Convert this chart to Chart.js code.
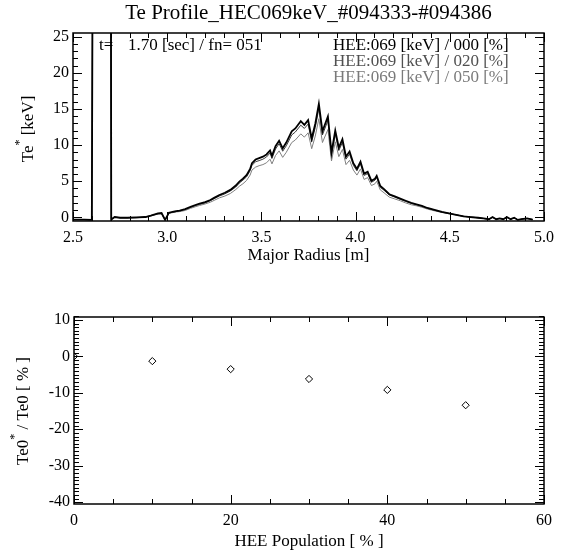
<!DOCTYPE html>
<html><head><meta charset="utf-8">
<script src="https://cdn.jsdelivr.net/npm/chart.js@4"></script>
<style>
html,body{margin:0;padding:0;background:#fff;}
#wrap{position:relative;width:563px;height:554px;background:#fff;}
#c1{position:absolute;left:0;top:0;}
#c2{position:absolute;left:0;top:280px;}
</style></head><body>
<div id="wrap"><canvas id="c1" width="563" height="280"></canvas><canvas id="c2" width="563" height="274"></canvas></div>
<script>
// ---------- data (top panel) ----------
const radius = [2.500,2.530,2.560,2.600,2.607,2.700,2.703,2.721,2.750,2.788,2.836,2.884,2.913,2.951,2.970,2.989,3.009,3.028,3.047,3.066,3.095,3.124,3.153,3.172,3.201,3.229,3.249,3.277,3.306,3.335,3.364,3.383,3.402,3.421,3.440,3.450,3.469,3.488,3.508,3.527,3.546,3.556,3.575,3.594,3.613,3.632,3.661,3.680,3.709,3.728,3.748,3.767,3.786,3.805,3.824,3.853,3.872,3.892,3.911,3.930,3.949,3.968,3.988,4.007,4.026,4.045,4.064,4.084,4.103,4.112,4.131,4.151,4.179,4.208,4.237,4.266,4.295,4.323,4.352,4.381,4.419,4.458,4.496,4.534,4.573,4.611,4.650,4.679,4.708,4.727,4.746,4.765,4.784,4.803,4.823,4.842,4.861,4.880,4.910,4.940];
const te000 = [-0.3,-0.3,-0.3,-0.35,60,60,-0.3,0.05,-0.05,-0.05,0.0,0.05,0.25,0.55,0.6,-0.35,0.65,0.75,0.85,0.95,1.15,1.45,1.75,1.9,2.1,2.4,2.7,3.1,3.4,3.8,4.4,4.95,5.35,5.85,6.7,7.5,8.0,8.2,8.4,8.7,9.25,8.5,9.85,10.6,9.55,10.35,11.9,12.3,13.3,12.8,13.45,10.9,12.95,15.7,11.9,13.95,8.95,12.0,9.65,10.8,8.4,9.1,7.5,6.7,7.7,6.05,6.3,5.05,5.35,5.75,4.35,3.9,3.2,2.9,2.6,2.3,2.0,1.8,1.6,1.3,1.05,0.75,0.55,0.35,0.15,0.05,-0.05,-0.15,-0.25,0.05,-0.25,-0.15,-0.25,0.05,-0.25,-0.05,-0.35,-0.25,-0.15,-0.3];
const te020 = [-0.3,-0.3,-0.3,-0.35,60,60,-0.3,0.05,-0.05,-0.05,-0.05,0.05,0.25,0.5,0.55,-0.35,0.6,0.7,0.8,0.9,1.1,1.4,1.65,1.8,2.0,2.3,2.6,2.95,3.25,3.65,4.2,4.75,5.15,5.6,6.45,7.2,7.7,7.85,8.05,8.35,8.9,8.15,9.45,10.2,9.15,9.9,11.4,11.8,12.75,12.3,12.9,10.45,12.45,15.05,11.4,13.4,8.6,11.5,9.25,10.35,8.05,8.75,7.2,6.45,7.4,5.8,6.05,4.85,5.15,5.5,4.15,3.75,3.1,2.8,2.5,2.2,1.95,1.75,1.55,1.25,1.0,0.72,0.55,0.35,0.15,0.05,-0.05,-0.15,-0.25,0.0,-0.25,-0.15,-0.25,0.0,-0.25,-0.05,-0.35,-0.25,-0.15,-0.3];
const te050 = [-0.3,-0.3,-0.3,-0.35,60,60,-0.3,0.0,-0.05,-0.05,-0.05,0.0,0.2,0.45,0.5,-0.35,0.55,0.65,0.75,0.8,0.95,1.25,1.5,1.65,1.85,2.1,2.35,2.7,2.95,3.3,3.85,4.3,4.65,5.1,5.85,6.55,6.95,7.15,7.3,7.55,8.05,7.4,8.55,9.2,8.3,9.0,10.35,10.7,11.55,11.1,11.7,9.5,11.25,13.65,10.35,12.15,7.8,10.45,8.4,9.4,7.3,7.9,6.55,5.85,6.7,5.25,5.5,4.4,4.65,5.0,3.8,3.4,2.8,2.55,2.3,2.0,1.75,1.6,1.4,1.15,0.9,0.68,0.5,0.35,0.15,0.05,-0.05,-0.15,-0.25,0.0,-0.25,-0.15,-0.25,0.0,-0.25,-0.05,-0.35,-0.25,-0.15,-0.3];
const seriesLabels = ['HEE:069 [keV] / 000 [%]','HEE:069 [keV] / 020 [%]','HEE:069 [keV] / 050 [%]'];
const seriesColors = ['#000000','#3c3c3c','#808080'];
const legendColors = ['#000000','#505050','#7a7a7a'];
const xTicksTop = [2.5,3.0,3.5,4.0,4.5,5.0];
const yTicksTop = [0,5,10,15,20,25];
// ---------- data (bottom panel) ----------
const population = [0,10,20,30,40,50];
const te0Change = [0,-1.3,-3.5,-6.2,-9.2,-13.4];
const xTicksBot = [0,20,40,60];
const yTicksBot = [-40,-30,-20,-10,0,10];

const FAM = "'Liberation Serif','Times New Roman',serif";

function isMult(v, step){ const q=v/step; return Math.abs(q-Math.round(q))<1e-6; }

const boxTicks = {
  id:'boxTicks',
  afterDraw(chart, args, o){
    const {ctx, chartArea:a, scales:{x,y}} = chart;
    ctx.save();
    ctx.strokeStyle='#000'; ctx.lineWidth=1;
    ctx.beginPath();
    const nx = Math.round((o.xMax-o.xMin)/o.xMinor);
    for(let i=0;i<=nx;i++){
      const v=o.xMin+i*o.xMinor;
      const px=Math.round(x.getPixelForValue(v))+0.5;
      const L=isMult(v-o.xMin,o.xMajor)?o.xMajLen:o.xMinLen;
      ctx.moveTo(px,a.bottom); ctx.lineTo(px,a.bottom-L);
      ctx.moveTo(px,a.top); ctx.lineTo(px,a.top+L);
    }
    const ny = Math.round((o.yMax-o.yMin)/o.yMinor);
    for(let i=0;i<=ny;i++){
      const v=o.yMin+i*o.yMinor;
      const py=Math.round(y.getPixelForValue(v))+0.5;
      if(py<a.top-0.5||py>a.bottom+0.5) continue;
      const L=isMult(v,o.yMajor)?o.yMajLen:o.yMinLen;
      ctx.moveTo(a.left,py); ctx.lineTo(a.left+L,py);
      ctx.moveTo(a.right,py); ctx.lineTo(a.right-L,py);
    }
    ctx.stroke();
    ctx.lineWidth=1.5;
    ctx.strokeRect(a.left,a.top,a.right-a.left,a.bottom-a.top);
    ctx.restore();
  }
};

function drawRotTitle(ctx, cx, cy, parts, size){
  ctx.save();
  ctx.translate(cx,cy); ctx.rotate(-Math.PI/2);
  ctx.fillStyle='#000'; ctx.textBaseline='middle'; ctx.textAlign='left';
  let total=0;
  parts.forEach(p=>{ ctx.font=(p.sup?Math.round(size*0.7):size)+'px '+FAM; p.w=ctx.measureText(p.t).width; total+=p.w; });
  let xx=-total/2;
  parts.forEach(p=>{ ctx.font=(p.sup?Math.round(size*0.7):size)+'px '+FAM; ctx.fillText(p.t, xx, p.sup?-size*0.55:0); xx+=p.w; });
  ctx.restore();
}

const topTexts = {
  id:'topTexts',
  afterDraw(chart){
    const {ctx, chartArea:a} = chart;
    ctx.save();
    ctx.fillStyle='#000'; ctx.textBaseline='middle';
    ctx.font='21px '+FAM; ctx.textAlign='center';
    ctx.fillText('Te Profile_HEC069keV_#094333-#094386',(a.left+a.right)/2,13);
    ctx.font='17px '+FAM; ctx.textAlign='left';
    ctx.fillText('t=',99,46);
    ctx.fillText('1.70 [sec] / fn= 051',128,46);
    seriesLabels.forEach((s,i)=>{ ctx.fillStyle=legendColors[i]; ctx.fillText(s,333,46+i*16); });
    ctx.restore();
    drawRotTitle(ctx,29,129,[{t:'Te'},{t:'*',sup:true},{t:' [keV]'}],17);
  }
};
const botTexts = {
  id:'botTexts',
  afterDraw(chart){
    drawRotTitle(chart.ctx,24,131,[{t:'Te0'},{t:'*',sup:true},{t:' / Te0 [ % ]'}],17);
  }
};

const tickFont = {family:FAM,size:16};

new Chart(document.getElementById('c1'),{
  type:'line',
  data:{datasets:[0,1,2].map(k=>({
    label:seriesLabels[k],
    data:radius.map((r,i)=>({x:r,y:[te000,te020,te050][k][i]})),
    borderColor:seriesColors[k], borderWidth:k===0?1.8:1, pointRadius:0, tension:0, clip:0, fill:false
  }))},
  options:{
    responsive:false, animation:false, events:[],
    layout:{padding:{left:0,right:19,top:33,bottom:0}},
    plugins:{legend:{display:false},tooltip:{enabled:false},title:{display:false},
      boxTicks:{xMin:2.5,xMax:5.0,xMinor:0.1,xMajor:0.5,xMajLen:9,xMinLen:5,yMin:-1,yMax:26,yMinor:1,yMajor:5,yMajLen:9,yMinLen:5}},
    scales:{
      x:{type:'linear',min:2.5,max:5.0,
        afterBuildTicks:s=>{s.ticks=xTicksTop.map(v=>({value:v}));},
        afterFit:s=>{s.height=59;},
        grid:{display:false,drawTicks:false},border:{display:false},
        ticks:{font:tickFont,color:'#000',padding:7,maxRotation:0,autoSkip:false,callback:v=>Number(v).toFixed(1)},
        title:{display:true,text:'Major Radius [m]',font:{family:FAM,size:17},color:'#000',padding:{top:0,bottom:14}}},
      y:{type:'linear',min:-0.5,max:25.5,
        afterBuildTicks:s=>{s.ticks=yTicksTop.map(v=>({value:v}));},
        afterFit:s=>{s.width=73;},
        grid:{display:false,drawTicks:false},border:{display:false},
        ticks:{font:tickFont,color:'#000',padding:4,autoSkip:false,callback:v=>String(v)}}
    }
  },
  plugins:[boxTicks,topTexts]
});

new Chart(document.getElementById('c2'),{
  type:'scatter',
  data:{datasets:[{label:'Te0 change',data:population.map((p,i)=>({x:p,y:te0Change[i]})),
    pointStyle:'rectRot',pointRadius:3.6,borderColor:'#000',backgroundColor:'#fff',borderWidth:1,clip:0,showLine:false}]},
  options:{
    responsive:false, animation:false, events:[],
    layout:{padding:{left:0,right:19,top:37,bottom:0}},
    plugins:{legend:{display:false},tooltip:{enabled:false},title:{display:false},
      boxTicks:{xMin:0,xMax:60,xMinor:5,xMajor:20,xMajLen:9,xMinLen:5,yMin:-41,yMax:11,yMinor:1,yMajor:10,yMajLen:9,yMinLen:5}},
    scales:{
      x:{type:'linear',min:0,max:60,
        afterBuildTicks:s=>{s.ticks=xTicksBot.map(v=>({value:v}));},
        afterFit:s=>{s.height=50;},
        grid:{display:false,drawTicks:false},border:{display:false},
        ticks:{font:tickFont,color:'#000',padding:7,maxRotation:0,autoSkip:false,callback:v=>String(v)},
        title:{display:true,text:'HEE Population [ % ]',font:{family:FAM,size:17},color:'#000',padding:{top:0,bottom:2}}},
      y:{type:'linear',min:-40.5,max:10.8,
        afterBuildTicks:s=>{s.ticks=yTicksBot.map(v=>({value:v}));},
        afterFit:s=>{s.width=74;},
        grid:{display:false,drawTicks:false},border:{display:false},
        ticks:{font:tickFont,color:'#000',padding:4,autoSkip:false,callback:v=>String(v)}}
    }
  },
  plugins:[boxTicks,botTexts]
});
</script>
</body></html>
